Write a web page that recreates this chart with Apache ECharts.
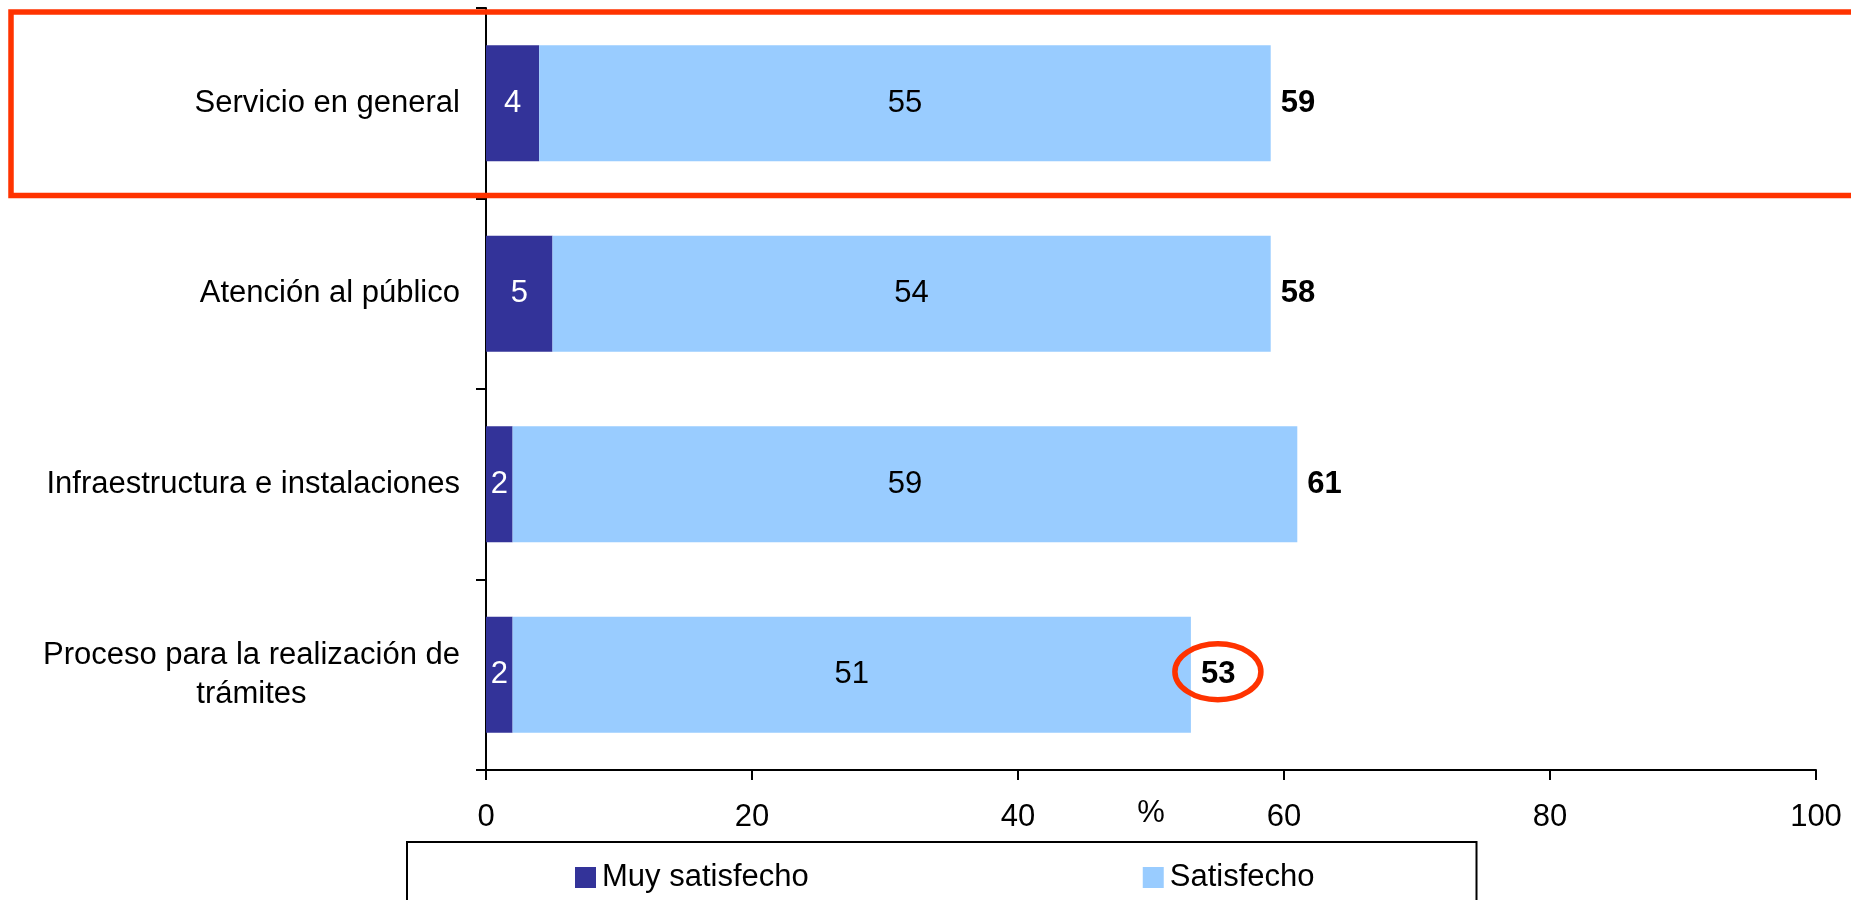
<!DOCTYPE html>
<html>
<head>
<meta charset="utf-8">
<script src="https://cdn.jsdelivr.net/npm/echarts@6/dist/echarts.min.js"></script>
<style>
  html, body { margin: 0; padding: 0; background: #fff; }
  #chart { width: 1851px; height: 900px; }
</style>
</head>
<body>
<div id="chart"></div>
<script>
// Satisfaction by aspect of the service (%)
const categories = [
  'Servicio en general',
  'Atención al público',
  'Infraestructura e instalaciones',
  'Proceso para la realización de\ntrámites'
];
const muySatisfecho = [4, 5, 2, 2];
const satisfecho = [55, 54, 59, 51];
const totals = [59, 58, 61, 53];
const xTicks = { min: 0, max: 100, interval: 20 };

const FONT = '"Liberation Sans", Arial, sans-serif';
const FS = 31;
const DARK = '#333399';
const LIGHT = '#99CCFF';
const RED = '#FF3300';

const chart = echarts.init(document.getElementById('chart'), null, { renderer: 'canvas' });

// Total labels sit on a zero-length segment at the end of each stack
const totalItems = totals.map(function (t) { return { value: 0, total: t }; });

const option = {
  animation: false,
  backgroundColor: '#ffffff',
  textStyle: { fontFamily: FONT, color: '#000' },
  grid: { left: 486, top: 8, width: 1330, height: 762, containLabel: false },
  legend: {
    data: ['Muy satisfecho', 'Satisfecho'],
    left: 407,
    top: 842,
    orient: 'horizontal',
    padding: [20, 162, 60, 168],
    itemGap: 334,
    itemWidth: 21,
    itemHeight: 21,
    borderColor: '#000',
    borderWidth: 2,
    icon: 'rect',
    textStyle: { fontFamily: FONT, fontSize: FS, color: '#000', padding: [0, 0, 0, 1] }
  },
  xAxis: {
    type: 'value',
    min: xTicks.min,
    max: xTicks.max,
    interval: xTicks.interval,
    name: '%',
    nameLocation: 'middle',
    nameGap: 28,
    nameMoveOverlap: false,
    nameTextStyle: { fontFamily: FONT, fontSize: FS, color: '#000' },
    axisLine: { show: true, lineStyle: { color: '#000', width: 2 } },
    axisTick: { show: true, length: 10, lineStyle: { color: '#000', width: 2 } },
    axisLabel: { fontFamily: FONT, fontSize: FS, color: '#000', margin: 32 },
    splitLine: { show: false }
  },
  yAxis: {
    type: 'category',
    inverse: true,
    data: categories,
    axisLine: { show: true, lineStyle: { color: '#000', width: 2 } },
    axisTick: { show: true, length: 10, lineStyle: { color: '#000', width: 2 } },
    axisLabel: {
      margin: 26,
      color: '#000',
      formatter: function (v) {
        return v.split('\n').map(function (s) { return '{c|' + s + '}'; }).join('\n');
      },
      rich: {
        c: { fontFamily: FONT, fontSize: FS, color: '#000', align: 'center', lineHeight: 39 }
      }
    }
  },
  series: [
    {
      name: 'Muy satisfecho',
      type: 'bar',
      stack: 'total',
      data: muySatisfecho,
      barCategoryGap: '39%',
      itemStyle: { color: DARK },
      label: {
        show: true, position: 'inside', color: '#fff',
        fontFamily: FONT, fontSize: FS, formatter: '{c}'
      }
    },
    {
      name: 'Satisfecho',
      type: 'bar',
      stack: 'total',
      data: satisfecho,
      barCategoryGap: '39%',
      itemStyle: { color: LIGHT },
      label: {
        show: true, position: 'inside', color: '#000',
        fontFamily: FONT, fontSize: FS, formatter: '{c}'
      }
    },
    {
      name: 'Total',
      type: 'bar',
      stack: 'total',
      data: totalItems,
      barCategoryGap: '39%',
      silent: true,
      itemStyle: { color: 'rgba(0,0,0,0)' },
      label: {
        show: true, position: 'right', distance: 10, color: '#000',
        fontFamily: FONT, fontSize: FS, fontWeight: 'bold',
        formatter: function (p) { return String(p.data.total); }
      }
    }
  ]
};

chart.setOption(option);

// Highlight frame around the first category and ring around the last total
const c0 = chart.convertToPixel({ gridIndex: 0 }, [0, categories[0]]);
const c1 = chart.convertToPixel({ gridIndex: 0 }, [0, categories[1]]);
const band = c1[1] - c0[1];
const bandTop = c0[1] - band / 2;
const last = categories.length - 1;
const lastEnd = muySatisfecho[last] + satisfecho[last];
const pLast = chart.convertToPixel({ gridIndex: 0 }, [lastEnd, categories[last]]);

chart.setOption({
  graphic: [
    {
      type: 'rect',
      z: 100,
      silent: true,
      shape: { x: 11, y: bandTop + 4, width: 1900, height: band - 7 },
      style: { fill: 'none', stroke: RED, lineWidth: 5.5 }
    },
    {
      type: 'ellipse',
      z: 100,
      silent: true,
      shape: { cx: pLast[0] + 27, cy: pLast[1] - 3, rx: 43, ry: 28 },
      style: { fill: 'none', stroke: RED, lineWidth: 5.5 }
    }
  ]
});
</script>
</body>
</html>
